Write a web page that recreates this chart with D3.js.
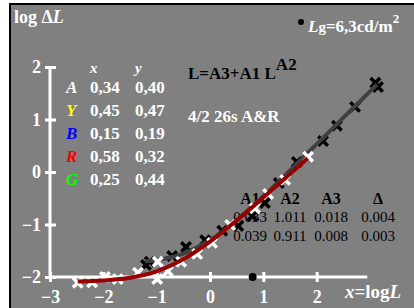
<!DOCTYPE html>
<html lang="en">
<head>
<meta charset="UTF-8">
<title>log dL</title>
<script src="https://cdn.jsdelivr.net/npm/d3@7"></script>
<style>
	body { margin: 0; background: #fff; }
	text { font-family: "Liberation Serif", "Times New Roman", serif; }
	.wb { fill: #fff; font-weight: bold; }
</style>
</head>
<body>
<script>
// chart values
var tickX = [-3, -2, -1, 0, 1, 2];
var tickY = [-2, -1, 0, 1, 2];

// fitted curves (gray = series 1, red = series 2)
var curveX1 = [-1.22, -1, -0.5, 0, 0.5, 1, 1.5, 2, 2.5, 3.13];
var curveY1 = [-1.70, -1.675, -1.553, -1.301, -0.919, -0.461, 0.029, 0.530, 1.033, 1.666];
var curveX2 = [-2.48, -2, -1.5, -1, -0.5, 0, 0.5, 1, 1.5, 1.83];
var curveY2 = [-2.086, -2.066, -2.014, -1.893, -1.664, -1.328, -0.923, -0.487, -0.039, 0.26];

// measured points: black crosses (series 1), white crosses (series 2)
var ptsX1 = [-1.20, -1.13, -0.71, -0.45, -0.09, 0.23, 0.53, 0.79, 1.03, 1.29, 1.63, 2.12, 2.38, 2.72, 3.10, 3.15];
var ptsY1 = [-1.77, -1.71, -1.60, -1.43, -1.30, -1.12, -1.03, -0.84, -0.59, -0.21, 0.19, 0.59, 0.88, 1.24, 1.70, 1.62];
var ptsX2 = [-2.48, -2.21, -1.97, -1.73, -1.35, -0.99, -0.98, -0.79, -0.54, -0.24, 0.04, 0.38, 0.84, 1.09, 1.41, 1.84];
var ptsY2 = [-2.11, -2.10, -2.00, -2.04, -1.92, -2.04, -1.71, -1.89, -1.71, -1.56, -1.35, -1.01, -0.69, -0.42, -0.15, 0.29];

// colour table
var colNames = ['A', 'Y', 'B', 'R', 'G'];
var colColors = ['#ffffff', '#ffff00', '#0000ff', '#ff0000', '#00ff00'];
var colXs = ['0,34', '0,45', '0,15', '0,58', '0,25'];
var colYs = ['0,40', '0,47', '0,19', '0,32', '0,44'];

// parameter table
var parHead = ['A1', 'A2', 'A3', '\u0394'];
var parRow1 = ['0.033', '1.011', '0.018', '0.004'];
var parRow2 = ['0.039', '0.911', '0.008', '0.003'];
var parCenters = [250, 290, 331, 378];

var lgX = 0.8; // log of 6,3 cd/m2

var W = 414, H = 308;
var svg = d3.select('body').append('svg')
	.attr('width', W)
	.attr('height', H);

svg.append('rect').attr('x', 10).attr('y', 4).attr('width', W).attr('height', H)
	.attr('fill', '#808080').attr('stroke', '#000').attr('stroke-width', 2);

var x = d3.scaleLinear().domain([-3, 3]).range([50, 370]);
var y = d3.scaleLinear().domain([-2, 2]).range([277, 67]);
var fmt = d3.format('d');

// axes
var axX = svg.append('g')
	.attr('transform', 'translate(0,' + y(-2) + ')')
	.call(d3.axisBottom(x).tickValues(tickX).tickFormat(fmt).tickSizeOuter(0).tickSize(5));
axX.select('.domain').attr('stroke', '#fff').attr('stroke-width', 3)
	.attr('d', 'M' + x(-3) + ',0H' + x(2.95));
axX.selectAll('.tick line').attr('stroke', '#fff').attr('stroke-width', 3).attr('y1', -5);
axX.selectAll('.tick text').attr('class', 'wb').attr('fill', '#fff')
	.attr('font-size', 18).attr('y', 26).attr('dy', 0).attr('font-family', null);

var axY = svg.append('g')
	.attr('transform', 'translate(' + x(-3) + ',0)')
	.call(d3.axisLeft(y).tickValues(tickY).tickFormat(fmt).tickSizeOuter(0).tickSize(5));
axY.select('.domain').attr('stroke', '#fff').attr('stroke-width', 3)
	.attr('d', 'M0,' + y(-2) + 'V' + y(2));
axY.selectAll('.tick line').attr('stroke', '#fff').attr('stroke-width', 3).attr('x1', 6);
axY.selectAll('.tick text').attr('class', 'wb').attr('fill', '#fff')
	.attr('font-size', 18).attr('x', -9).attr('dy', '0.33em').attr('font-family', null);
svg.selectAll('.domain, .tick line').attr('stroke-linecap', 'butt');

// axis titles
var t1 = svg.append('text').attr('class', 'wb').attr('x', 14).attr('y', 23).attr('font-size', 18);
t1.append('tspan').text('log \u0394');
t1.append('tspan').attr('font-style', 'italic').text('L');

var t2 = svg.append('text').attr('class', 'wb').attr('x', 345).attr('y', 298).attr('font-size', 19);
t2.append('tspan').attr('font-style', 'italic').text('x');
t2.append('tspan').text('=log');
t2.append('tspan').attr('font-style', 'italic').text('L');

// Lg legend
svg.append('circle').attr('cx', 301).attr('cy', 22).attr('r', 3).attr('fill', '#000');
var t3 = svg.append('text').attr('class', 'wb').attr('x', 308).attr('y', 32).attr('font-size', 17);
t3.append('tspan').attr('font-style', 'italic').text('L');
t3.append('tspan').attr('font-size', 15).text('g');
t3.append('tspan').text('=6,3cd/m');
t3.append('tspan').attr('font-size', 13).attr('dy', -9).text('2');

// colour table
svg.append('text').attr('class', 'wb').attr('font-style', 'italic').attr('font-size', 15)
	.attr('x', 90).attr('y', 73).text('x');
svg.append('text').attr('class', 'wb').attr('font-style', 'italic').attr('font-size', 15)
	.attr('x', 135).attr('y', 73).text('y');
colNames.forEach(function (n, i) {
	var yy = 93 + i * 23;
	svg.append('text').attr('font-weight', 'bold').attr('font-style', 'italic').attr('font-size', 17)
		.attr('x', 66).attr('y', yy).attr('fill', colColors[i]).text(n);
	svg.append('text').attr('class', 'wb').attr('font-size', 17).attr('x', 90).attr('y', yy).text(colXs[i]);
	svg.append('text').attr('class', 'wb').attr('font-size', 17).attr('x', 135).attr('y', yy).text(colYs[i]);
});

// formula and label
var t4 = svg.append('text').attr('font-weight', 'bold').attr('fill', '#000').attr('font-size', 17)
	.attr('x', 188).attr('y', 79);
t4.append('tspan').text('L=A3+A1 L');
t4.append('tspan').attr('dy', -9).text('A2');
svg.append('text').attr('class', 'wb').attr('font-size', 17).attr('x', 188).attr('y', 122).text('4/2 26s A&R');

// parameter table
parHead.forEach(function (h, i) {
	svg.append('text').attr('font-weight', 'bold').attr('font-size', 16).attr('fill', '#000')
		.attr('text-anchor', 'middle').attr('x', parCenters[i]).attr('y', 204).text(h);
	svg.append('text').attr('font-size', 15).attr('fill', '#000')
		.attr('text-anchor', 'middle').attr('x', parCenters[i]).attr('y', 222).text(parRow1[i]);
	svg.append('text').attr('font-size', 15).attr('fill', '#000')
		.attr('text-anchor', 'middle').attr('x', parCenters[i]).attr('y', 241).text(parRow2[i]);
});

var line = d3.line()
	.x(function (d) { return x(d[0]); })
	.y(function (d) { return y(d[1]); })
	.curve(d3.curveMonotoneX);

var cross = 'M-3.5,-3.5L3.5,3.5M-3.5,3.5L3.5,-3.5';

function drawPts(xs, ys, col) {
	svg.append('g').selectAll('path')
		.data(d3.zip(xs, ys))
		.enter().append('path')
		.attr('d', cross)
		.attr('transform', function (d) { return 'translate(' + x(d[0]) + ',' + y(d[1]) + ')'; })
		.attr('stroke', col)
		.attr('stroke-width', 3.5)
		.attr('stroke-linecap', 'square')
		.attr('fill', 'none');
}

drawPts(ptsX1, ptsY1, '#000');
svg.append('path').datum(d3.zip(curveX1, curveY1))
	.attr('d', line).attr('fill', 'none').attr('stroke', '#404040').attr('stroke-width', 4);
drawPts(ptsX2, ptsY2, '#fff');
svg.append('path').datum(d3.zip(curveX2, curveY2))
	.attr('d', line).attr('fill', 'none').attr('stroke', '#990000').attr('stroke-width', 4);

// Lg marker on x axis
svg.append('circle').attr('cx', x(lgX)).attr('cy', y(-2)).attr('r', 4).attr('fill', '#000');
</script>
</body>
</html>
